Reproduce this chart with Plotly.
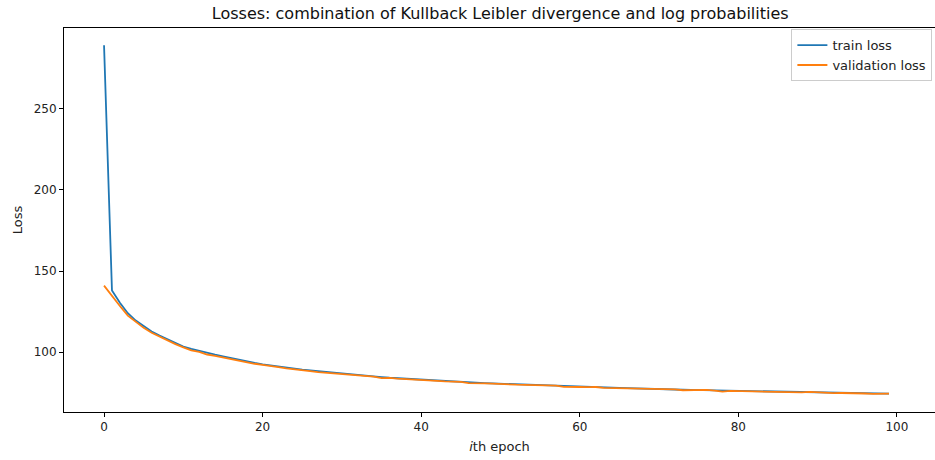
import plotly.graph_objects as go

epochs = list(range(100))

train_loss = [
    289.0, 138.0, 130.5, 124.0, 119.5, 116.0, 112.8, 110.2, 107.9, 105.6,
    103.5, 102.0, 100.7, 99.5, 98.5, 97.5, 96.4, 95.4, 94.5, 93.4,
    92.5, 91.8, 91.2, 90.5, 89.9, 89.3, 88.8, 88.3, 87.8, 87.3,
    86.8, 86.4, 85.9, 85.5, 85.1, 84.7, 84.3, 84.0, 83.6, 83.3,
    83.0, 82.8, 82.5, 82.2, 81.9, 81.7, 81.5, 81.2, 81.0, 80.8,
    80.6, 80.4, 80.2, 80.0, 79.8, 79.6, 79.4, 79.2, 79.0, 78.9,
    78.7, 78.6, 78.4, 78.3, 78.1, 78.0, 77.9, 77.7, 77.6, 77.4,
    77.3, 77.2, 77.1, 76.9, 76.8, 76.7, 76.6, 76.5, 76.4, 76.3,
    76.2, 76.1, 76.0, 75.9, 75.8, 75.7, 75.6, 75.5, 75.4, 75.3,
    75.2, 75.1, 75.0, 74.9, 74.9, 74.8, 74.7, 74.6, 74.6, 74.5,
]

validation_loss = [
    141.0, 134.5, 128.5, 122.5, 118.5, 115.0, 112.0, 109.5, 107.3, 105.0,
    103.0, 101.2, 100.2, 98.6, 97.8, 96.8, 95.7, 94.9, 93.8, 92.9,
    92.2, 91.3, 90.8, 90.0, 89.6, 88.8, 88.4, 87.7, 87.3, 86.7,
    86.5, 85.8, 85.6, 85.0, 85.0, 84.0, 84.2, 83.7, 83.5, 83.0,
    82.8, 82.7, 82.3, 82.0, 81.8, 81.8, 81.0, 81.1, 80.8, 80.7,
    80.4, 79.9, 80.0, 79.9, 79.7, 79.7, 79.2, 79.4, 78.7, 78.8,
    78.6, 78.5, 78.6, 78.1, 78.0, 78.0, 77.7, 77.4, 77.5, 77.4,
    77.2, 77.1, 77.1, 76.6, 76.7, 76.6, 76.8, 76.4, 75.8, 76.2,
    76.1, 75.9, 75.7, 75.8, 75.8, 75.5, 75.7, 75.3, 75.3, 75.6,
    75.3, 74.7, 74.8, 74.9, 74.8, 75.0, 74.6, 74.3, 74.6, 74.5,
]

x_ticks = [0, 20, 40, 60, 80, 100]
y_ticks = [100, 150, 200, 250]

font_family = "DejaVu Sans"

fig = go.Figure()
fig.add_trace(go.Scatter(x=epochs, y=train_loss, mode="lines", name="train loss",
                         line=dict(color="#1f77b4", width=1.8)))
fig.add_trace(go.Scatter(x=epochs, y=validation_loss, mode="lines", name="validation loss",
                         line=dict(color="#ff7f0e", width=1.8)))

axis_common = dict(
    showgrid=False, zeroline=False, showline=True, linecolor="black", linewidth=1,
    ticks="outside", ticklen=4, tickwidth=1, tickcolor="black",
    tickfont=dict(family=font_family, size=12, color="#222"),
)

fig.update_layout(
    width=935, height=460,
    margin=dict(l=64, r=0, t=28, b=48),
    paper_bgcolor="white", plot_bgcolor="white",
    font=dict(family=font_family, color="#222"),
    title=dict(text="Losses: combination of Kullback Leibler divergence and log probabilities",
               x=0.535, xanchor="center", y=0.97, yanchor="middle",
               font=dict(family=font_family, size=16, color="#111")),
    xaxis=dict(range=[-5.05, 104.8], tickvals=x_ticks, mirror=True,
               title=dict(text="<i>i</i>th epoch", standoff=8,
                          font=dict(family=font_family, size=13, color="#222")),
               **axis_common),
    yaxis=dict(range=[63.2, 299.6], tickvals=y_ticks, mirror=False,
               title=dict(text="Loss", standoff=8,
                          font=dict(family=font_family, size=13, color="#222")),
               **axis_common),
    legend=dict(x=0.997, xanchor="right", y=0.997, yanchor="top",
                bgcolor="rgba(255,255,255,0.8)", bordercolor="#cccccc", borderwidth=1,
                font=dict(family=font_family, size=13, color="#222"),
                tracegroupgap=0, itemwidth=30),
    showlegend=True,
)

fig.write_html("out.html")
